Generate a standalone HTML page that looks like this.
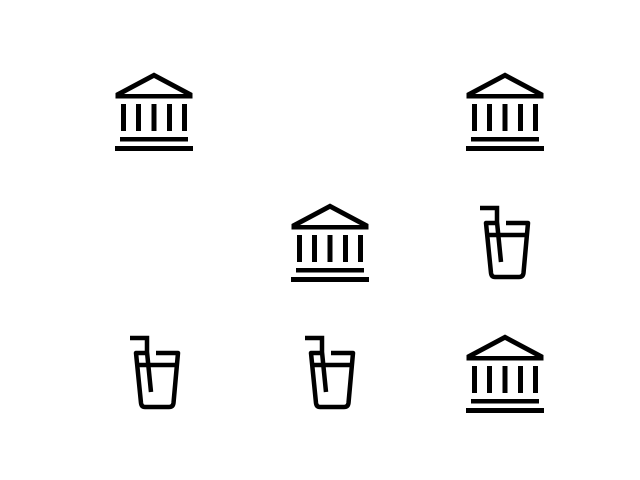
<!DOCTYPE html>
<html><head><meta charset="utf-8"><style>html,body{margin:0;padding:0;background:#fff;width:640px;height:480px;overflow:hidden}</style></head>
<body>
<svg width="640" height="480">
<defs>
<g id="bank">
<path d="M115.5,98.5 L115.5,93 L154,72.5 L192.5,93 L192.5,98.5 Z M124,94 L154,78 L184,94 Z" fill="#000" fill-rule="evenodd"/>
<rect x="121" y="104" width="5" height="27" fill="#000"/>
<rect x="136" y="104" width="5" height="27" fill="#000"/>
<rect x="151.5" y="104" width="5" height="27" fill="#000"/>
<rect x="167" y="104" width="5" height="27" fill="#000"/>
<rect x="182" y="104" width="5" height="27" fill="#000"/>
<rect x="120" y="137" width="68" height="4.5" fill="#000"/>
<rect x="115" y="146" width="78" height="5" fill="#000"/>
</g>
<g id="drink" fill="none" stroke="#000" stroke-width="4.5">
<path d="M480,208 H497 V222 L501,262" stroke-linejoin="miter"/>
<path d="M495,223 H486 L491,273 Q491.5,277 495,277 H519 Q523,277 523.5,273 L528,223 H506" stroke-linejoin="round"/>
<path d="M487,235 H527"/>
</g>
</defs>
<use href="#bank"/>
<use href="#bank" x="351"/>
<use href="#bank" x="176" y="131"/>
<use href="#drink"/>
<use href="#drink" x="-350" y="130"/>
<use href="#drink" x="-175" y="130"/>
<use href="#bank" x="351" y="262"/>
</svg>
</body></html>
